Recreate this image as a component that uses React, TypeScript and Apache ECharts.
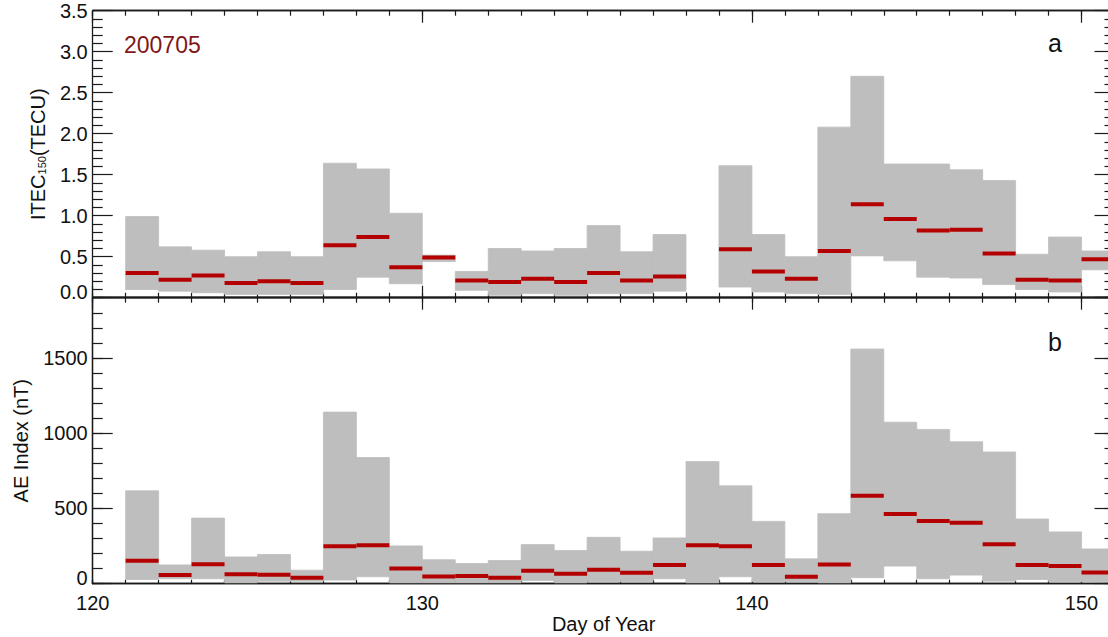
import React, { useEffect, useRef } from 'react';
import * as echarts from 'echarts';

// Day-of-year bins (each bin spans [day, day+1])
const days = [121, 122, 123, 124, 125, 126, 127, 128, 129, 130, 131, 132, 133, 134, 135, 136, 137, 138, 139, 140, 141, 142, 143, 144, 145, 146, 147, 148, 149, 150];

// Panel a: ITEC150 (TECU)
const itecLow = [0.10, 0.08, 0.06, 0.04, 0.04, 0.04, 0.10, 0.25, 0.17, 0.44, 0.09, 0.03, 0.05, 0.03, 0.05, 0.05, 0.08, null, 0.13, 0.07, 0.05, 0.04, 0.51, 0.45, 0.25, 0.24, 0.16, 0.10, 0.07, 0.34];
const itecHigh = [0.99, 0.62, 0.58, 0.50, 0.56, 0.50, 1.64, 1.57, 1.03, 0.52, 0.32, 0.60, 0.57, 0.60, 0.88, 0.56, 0.77, null, 1.61, 0.77, 0.50, 2.08, 2.70, 1.63, 1.63, 1.56, 1.43, 0.53, 0.74, 0.57];
const itecMedian = [0.30, 0.22, 0.27, 0.18, 0.20, 0.18, 0.64, 0.74, 0.37, 0.49, 0.21, 0.19, 0.23, 0.19, 0.30, 0.21, 0.26, null, 0.59, 0.32, 0.23, 0.57, 1.14, 0.96, 0.82, 0.83, 0.54, 0.22, 0.21, 0.47];

// Panel b: AE index (nT)
const aeLow = [28, 33, 33, 6, 17, 17, 24, 46, 6, 6, 6, 6, 22, 6, 13, 13, 33, 6, 46, 13, 13, 6, 40, 117, 33, 57, 17, 28, 13, 13];
const aeHigh = [617, 125, 436, 178, 194, 90, 1140, 838, 251, 159, 134, 154, 260, 220, 308, 216, 304, 811, 650, 414, 165, 465, 1559, 1073, 1025, 943, 875, 430, 344, 231];
const aeMedian = [152, 57, 130, 62, 60, 39, 249, 256, 101, 48, 51, 40, 86, 66, 93, 73, 124, 256, 248, 124, 46, 128, 584, 463, 416, 405, 262, 124, 117, 75];

// Axis settings
const xMin = 120;
const xMax = 151;
const itecTicks = { min: 0, max: 3.5, interval: 0.5 };
const aeTicks = { min: 0, max: 1900, interval: 500, minor: 100 };

const FONT = "'Liberation Sans', Arial, Helvetica, sans-serif";
const AXC = '#1a1a1a';
const GRAY = '#bebebe';
const RED = '#b30000';

function xAxis(grid: number, pos: string, interval: number, len: number, labels = false, extra: any = {}) {
  return {
    type: 'value',
    gridIndex: grid,
    position: pos,
    min: xMin,
    max: xMax,
    interval,
    axisLine: { show: true, onZero: false, lineStyle: { color: AXC, width: 1.3 } },
    axisTick: { show: true, inside: true, length: len, lineStyle: { color: AXC, width: 1.2 } },
    axisLabel: labels
      ? {
          show: true,
          margin: 9,
          fontSize: 20,
          color: '#111',
          fontFamily: FONT,
          showMaxLabel: false,
          formatter: (v: number) => (v % 10 === 0 ? String(v) : ''),
        }
      : { show: false },
    splitLine: { show: false },
    ...extra,
  };
}

function yAxis(grid: number, pos: string, range: any, interval: number, len: number, labels: any = null, extra: any = {}) {
  return {
    type: 'value',
    gridIndex: grid,
    position: pos,
    min: range.min,
    max: range.max,
    interval,
    axisLine: { show: true, onZero: false, lineStyle: { color: AXC, width: 1.3 } },
    axisTick: { show: true, inside: true, length: len, lineStyle: { color: AXC, width: 1.2 } },
    axisLabel: labels ? labels : { show: false },
    splitLine: { show: false },
    ...extra,
  };
}

export default function App() {
  const ref = useRef<HTMLDivElement>(null);

  useEffect(() => {
    if (!ref.current) return;
    const chart = echarts.init(ref.current, null, { renderer: 'svg' });

    const itecBand: any[] = [];
    const itecMed: any[] = [];
    const aeBand: any[] = [];
    const aeMed: any[] = [];
    days.forEach((d, i) => {
      if (itecLow[i] != null && itecHigh[i] != null) itecBand.push([d, itecLow[i], itecHigh[i]]);
      if (itecMedian[i] != null) itecMed.push([d, itecMedian[i]]);
      aeBand.push([d, aeLow[i], aeHigh[i]]);
      aeMed.push([d, aeMedian[i]]);
    });

    const bandRender = (params: any, api: any) => {
      const d = api.value(0);
      const lo = api.value(1);
      const hi = api.value(2);
      const p0 = api.coord([d, hi]);
      const p1 = api.coord([d + 1, lo]);
      return {
        type: 'rect',
        shape: { x: p0[0], y: p0[1], width: p1[0] - p0[0], height: p1[1] - p0[1] },
        style: { fill: GRAY, stroke: GRAY, lineWidth: 0.8 },
      };
    };
    const medRender = (params: any, api: any) => {
      const d = api.value(0);
      const m = api.value(1);
      const p0 = api.coord([d, m]);
      const p1 = api.coord([d + 1, m]);
      return {
        type: 'line',
        shape: { x1: p0[0], y1: p0[1], x2: p1[0], y2: p1[1] },
        style: { stroke: RED, lineWidth: 4 },
      };
    };

    const labelStyle = { fontSize: 20, color: '#111', fontFamily: FONT };

    const option: any = {
      animation: false,
      backgroundColor: '#ffffff',
      grid: [
        { left: 92.7, top: 10.7, width: 1021.8, height: 287, outerBoundsMode: 'none', containLabel: false },
        { left: 92.7, top: 297.7, width: 1021.8, height: 286, outerBoundsMode: 'none', containLabel: false },
      ],
      xAxis: [
        xAxis(0, 'bottom', 1, 5),
        xAxis(0, 'bottom', 10, 12),
        xAxis(0, 'top', 1, 5),
        xAxis(0, 'top', 10, 12),
        xAxis(1, 'bottom', 1, 4),
        xAxis(1, 'bottom', 10, 4, true, {
          name: 'Day of Year',
          nameLocation: 'middle',
          nameGap: 30,
          nameMoveOverlap: false,
          nameTextStyle: labelStyle,
        }),
        xAxis(1, 'top', 1, 5),
        xAxis(1, 'top', 10, 12),
      ],
      yAxis: [
        yAxis(
          0,
          'left',
          itecTicks,
          itecTicks.interval,
          20,
          {
            show: true,
            margin: 5,
            ...labelStyle,
            formatter: (v: number) => (Math.abs(v) < 1e-9 ? '{z|0.0}' : v.toFixed(1)),
            rich: { z: { ...labelStyle, padding: [0, 0, 12, 0] } },
          },
          {
            minorTick: { show: true, splitNumber: 5, length: 10, lineStyle: { color: AXC, width: 1.2 } },
            minorSplitLine: { show: false },
            name: '{n|ITEC}{s|150}{n|(TECU)}',
            nameLocation: 'middle',
            nameGap: 45,
            nameRotate: 90,
            nameMoveOverlap: false,
            nameTextStyle: {
              ...labelStyle,
              rich: {
                n: { ...labelStyle },
                s: { fontSize: 11, color: '#111', fontFamily: FONT, verticalAlign: 'bottom' },
              },
            },
          }
        ),
        yAxis(0, 'right', itecTicks, itecTicks.interval, 20, null, {
          minorTick: { show: true, splitNumber: 5, length: 10, lineStyle: { color: AXC, width: 1.2 } },
          minorSplitLine: { show: false },
        }),
        yAxis(
          1,
          'left',
          aeTicks,
          aeTicks.interval,
          20,
          {
            show: true,
            margin: 5,
            ...labelStyle,
            showMaxLabel: false,
            formatter: (v: number) => (v === 0 ? '{z|0}' : v % 500 === 0 ? String(v) : ''),
            rich: { z: { ...labelStyle, padding: [0, 0, 12, 0] } },
          },
          {
            name: 'AE Index (nT)',
            nameLocation: 'middle',
            nameGap: 62,
            nameRotate: 90,
            nameMoveOverlap: false,
            nameTextStyle: labelStyle,
          }
        ),
        yAxis(1, 'left', aeTicks, aeTicks.minor, 10),
        yAxis(1, 'right', aeTicks, aeTicks.interval, 20),
        yAxis(1, 'right', aeTicks, aeTicks.minor, 10),
      ],
      graphic: [
        {
          type: 'text',
          x: 124,
          y: 45,
          style: { text: '200705', fill: '#7f1719', fontSize: 23, fontFamily: FONT, align: 'left', verticalAlign: 'middle' },
        },
        {
          type: 'text',
          x: 1048,
          y: 43,
          style: { text: 'a', fill: '#111', fontSize: 25, fontFamily: FONT, align: 'left', verticalAlign: 'middle' },
        },
        {
          type: 'text',
          x: 1048,
          y: 342,
          style: { text: 'b', fill: '#111', fontSize: 25, fontFamily: FONT, align: 'left', verticalAlign: 'middle' },
        },
      ],
      series: [
        {
          type: 'custom',
          name: 'ITEC range',
          xAxisIndex: 0,
          yAxisIndex: 0,
          renderItem: bandRender,
          encode: { x: 0, y: [1, 2] },
          data: itecBand,
          z: 2,
        },
        {
          type: 'custom',
          name: 'ITEC median',
          xAxisIndex: 0,
          yAxisIndex: 0,
          renderItem: medRender,
          encode: { x: 0, y: 1 },
          data: itecMed,
          z: 3,
        },
        {
          type: 'custom',
          name: 'AE range',
          xAxisIndex: 4,
          yAxisIndex: 2,
          renderItem: bandRender,
          encode: { x: 0, y: [1, 2] },
          data: aeBand,
          z: 2,
        },
        {
          type: 'custom',
          name: 'AE median',
          xAxisIndex: 4,
          yAxisIndex: 2,
          renderItem: medRender,
          encode: { x: 0, y: 1 },
          data: aeMed,
          z: 3,
        },
      ],
    };

    chart.setOption(option);
    return () => {
      chart.dispose();
    };
  }, []);

  return (
    <div style={{ position: 'absolute', left: 0, top: 0, width: 1108, height: 637, overflow: 'hidden', background: '#fff' }}>
      <div ref={ref} style={{ width: 1130, height: 637 }} />
    </div>
  );
}
